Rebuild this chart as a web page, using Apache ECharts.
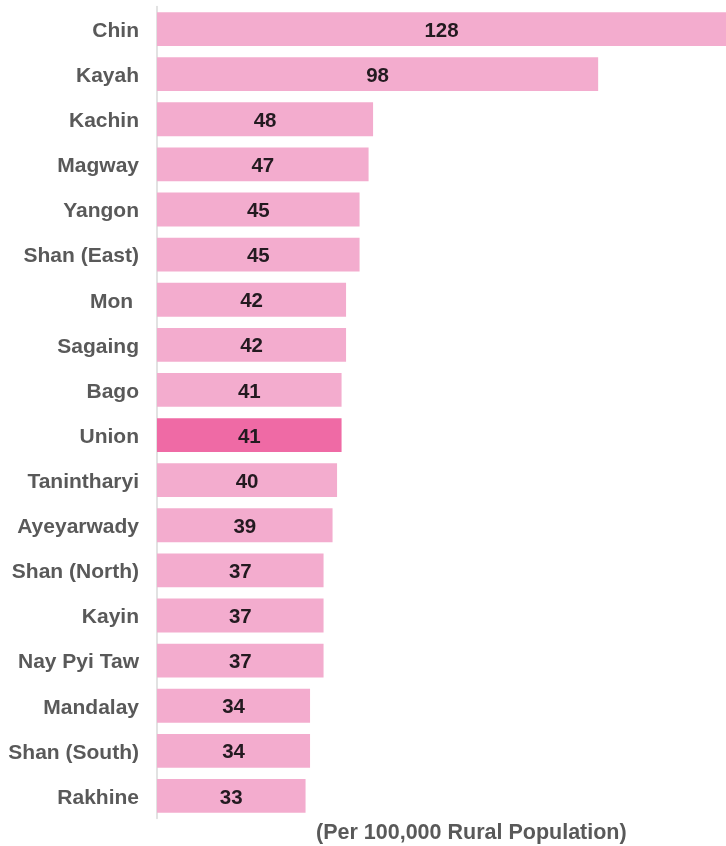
<!DOCTYPE html>
<html>
<head>
<meta charset="utf-8">
<style>
  html, body { margin: 0; padding: 0; background: #ffffff; }
  #chart { width: 726px; height: 846px; }
</style>
<script src="https://cdn.jsdelivr.net/npm/echarts@6/dist/echarts.min.js"></script>
</head>
<body>
<div id="chart"></div>
<script>
// Regions ordered top to bottom
const regions = [
  'Chin', 'Kayah', 'Kachin', 'Magway', 'Yangon', 'Shan (East)', 'Mon ',
  'Sagaing', 'Bago', 'Union', 'Tanintharyi', 'Ayeyarwady', 'Shan (North)',
  'Kayin', 'Nay Pyi Taw', 'Mandalay', 'Shan (South)', 'Rakhine'
];
// Rate per 100,000 rural population
const rates = [128, 98, 48, 47, 45, 45, 42, 42, 41, 41, 40, 39, 37, 37, 37, 34, 34, 33];
const highlight = 'Union';
const axisTitle = '(Per 100,000 Rural Population)';

const baseColor = '#F3ACCE';
const highlightColor = '#EF6AA5';
const textGray = '#595959';
const fontFamily = 'Arial, "Liberation Sans", sans-serif';

const chart = echarts.init(document.getElementById('chart'), null, { renderer: 'canvas' });

chart.setOption({
  animation: false,
  grid: { left: 157, right: 0, top: 6.5, bottom: 27.5, containLabel: false },
  xAxis: {
    type: 'value',
    min: 0,
    max: 126.4,
    show: false
  },
  yAxis: {
    type: 'category',
    inverse: true,
    data: regions,
    axisLine: { show: true, lineStyle: { color: '#D9D9D9', width: 1.5 } },
    axisTick: { show: false },
    axisLabel: {
      margin: 18,
      formatter: '{n|{value}}',
      rich: {
        n: {
          padding: [4, 0, 0, 0],
          color: textGray,
          fontSize: 21,
          fontWeight: 'bold',
          fontFamily: fontFamily
        }
      }
    }
  },
  series: [{
    type: 'bar',
    clip: true,
    barCategoryGap: '25%',
    data: rates.map((v, i) => ({
      value: v,
      itemStyle: { color: regions[i] === highlight ? highlightColor : baseColor }
    })),
    label: {
      show: true,
      position: 'inside',
      offset: [0, 2],
      color: '#231a20',
      fontSize: 20.5,
      fontWeight: 'bold',
      fontFamily: fontFamily
    }
  }],
  graphic: [{
    type: 'text',
    x: 316,
    y: 833,
    style: {
      text: axisTitle,
      fill: textGray,
      font: 'bold 21.5px ' + fontFamily,
      verticalAlign: 'middle'
    }
  }]
});
</script>
</body>
</html>
